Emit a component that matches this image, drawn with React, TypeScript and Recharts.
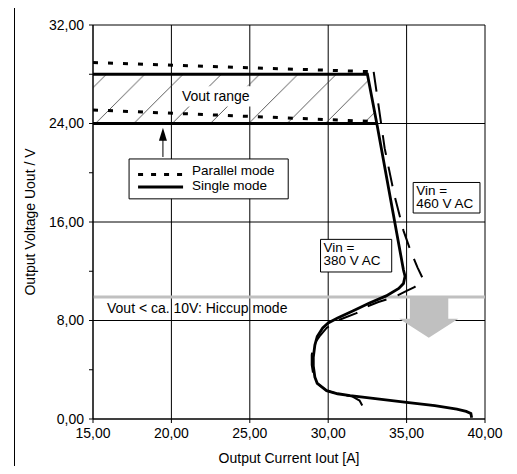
import React from "react";
import {
  ComposedChart,
  Line,
  Area,
  XAxis,
  YAxis,
  CartesianGrid,
  ReferenceLine,
  ReferenceArea,
} from "recharts";

// axes
const xTicks = [15, 20, 25, 30, 35, 40];
const yTicks = [0, 4, 8, 12, 16, 20, 24, 28, 32];
const yLabelled = [0, 8, 16, 24, 32];
const gridX = [15, 20, 25, 30, 35, 40];
const gridY = [0, 8, 16, 24, 32];

// Vout range (hatched band) as [low, high]
const voutRange = [
  { x: 15, r: [24, 28] },
  { x: 32.5, r: [24, 28] },
  { x: 33.1, r: [24, 24] },
];

// single mode (solid)
const singleMain = [
  { x: 15, y: 28 }, { x: 32.5, y: 28 }, { x: 33.1, y: 24 }, { x: 34.8, y: 12.1 },
  { x: 34.9, y: 11.6 }, { x: 34.8, y: 11.0 }, { x: 34.5, y: 10.6 }, { x: 33.7, y: 10.0 },
  { x: 32.6, y: 9.4 }, { x: 31.6, y: 8.8 }, { x: 30.6, y: 8.2 }, { x: 30.0, y: 7.8 },
  { x: 29.65, y: 7.4 }, { x: 29.3, y: 6.7 }, { x: 29.15, y: 6.0 }, { x: 29.05, y: 5.0 },
  { x: 29.05, y: 4.3 }, { x: 29.15, y: 3.4 }, { x: 29.3, y: 2.9 }, { x: 29.9, y: 2.3 },
  { x: 30.6, y: 2.05 }, { x: 31.4, y: 1.9 }, { x: 33.0, y: 1.65 }, { x: 35.0, y: 1.35 },
  { x: 36.8, y: 1.08 }, { x: 38.2, y: 0.8 }, { x: 38.8, y: 0.62 }, { x: 39.1, y: 0.45 },
  { x: 39.15, y: 0.1 },
];
const singleLow = [{ x: 15, y: 24 }, { x: 33.1, y: 24 }];

// parallel mode (dashed)
const parallelTop = [{ x: 15, y: 28.95 }, { x: 32.9, y: 28.2 }];
const parallelLow = [{ x: 15, y: 25.1 }, { x: 33.1, y: 24.15 }];
const parallelCurve = [
  { x: 32.9, y: 28.2 }, { x: 33.6, y: 22 }, { x: 34.2, y: 18.3 }, { x: 34.8, y: 15.3 },
  { x: 35.3, y: 13.5 }, { x: 35.7, y: 12.3 }, { x: 36.0, y: 11.5 }, { x: 35.9, y: 11.1 },
  { x: 35.5, y: 10.7 }, { x: 35.0, y: 10.4 }, { x: 34.2, y: 9.9 }, { x: 33.2, y: 9.5 },
  { x: 32.6, y: 9.2 }, { x: 31.8, y: 8.6 }, { x: 30.6, y: 8.0 }, { x: 29.9, y: 7.4 },
  { x: 29.5, y: 6.8 }, { x: 29.05, y: 6.0 }, { x: 28.95, y: 5.2 }, { x: 28.95, y: 4.4 },
  { x: 29.05, y: 3.6 }, { x: 29.3, y: 2.9 }, { x: 29.9, y: 2.3 }, { x: 30.7, y: 2.0 },
  { x: 31.5, y: 1.85 }, { x: 32.0, y: 1.5 }, { x: 32.25, y: 0.9 }, { x: 32.4, y: 0.2 },
];

const hiccupLevel = 9.9;

const fmt = (v: number) => v.toFixed(2).replace(".", ",");

const txt = { fontSize: 14, fill: "#000" };
const boxTxt = { fontSize: 13.5, fill: "#000" };

const LegendBox = (props: any) => {
  const { x, y } = props.viewBox;
  return (
    <g>
      <line x1={x + 9} x2={x + 54} y1={y + 15.5} y2={y + 15.5} stroke="#000" strokeWidth={3} strokeDasharray="5 8" />
      <line x1={x + 9} x2={x + 54} y1={y + 28} y2={y + 28} stroke="#000" strokeWidth={3} />
      <text x={x + 63} y={y + 16.5} {...boxTxt}>Parallel mode</text>
      <text x={x + 63} y={y + 31} {...boxTxt}>Single mode</text>
    </g>
  );
};

const TwoLines = (a: string, b: string) => (props: any) => {
  const { x, y } = props.viewBox;
  return (
    <g>
      <text x={x + 3} y={y + 12.5} {...boxTxt}>{a}</text>
      <text x={x + 3} y={y + 26} {...boxTxt}>{b}</text>
    </g>
  );
};

const GrayArrow = (p: any) => {
  const { x, y, width: w, height: h } = p;
  const pts = [
    [x + w * 0.18, y], [x + w * 0.83, y], [x + w * 0.83, y + h * 0.53],
    [x + w, y + h * 0.53], [x + w / 2, y + h], [x, y + h * 0.53], [x + w * 0.18, y + h * 0.53],
  ];
  return <polygon points={pts.map((q) => q.join(",")).join(" ")} fill="#c0c0c0" />;
};

const UpArrow = (p: any) => {
  const { x, y, width: w, height: h } = p;
  const cx = x + w / 2;
  return (
    <g>
      <line x1={cx} x2={cx} y1={y + h} y2={y + 10} stroke="#000" strokeWidth={1} />
      <polygon points={`${cx},${y} ${cx - 4},${y + 13} ${cx + 4},${y + 13}`} fill="#000" />
    </g>
  );
};

export default function App() {
  return (
    <div style={{ position: "relative", width: 517, height: 474, margin: "-8px", overflow: "hidden", fontFamily: "'Liberation Sans', Arial, sans-serif", background: "#fff" }}>
      <div style={{ position: "absolute", left: 14, top: 6, width: 495, height: 490, border: "1px solid #000" }} />
      <div style={{ position: "absolute", left: 0, top: 0 }}>
        <ComposedChart width={517} height={474} margin={{ top: 25, right: 32, bottom: 0, left: 0 }}>
          <defs>
            <pattern id="hatch" patternUnits="userSpaceOnUse" x={-10.8} y={0} width={38.3} height={38.3}>
              <path d="M0,38.3 L38.3,0 M-3,3 L3,-3 M35.3,41.3 L41.3,35.3" stroke="#333" strokeWidth={0.8} />
            </pattern>
          </defs>
          <CartesianGrid stroke="#000" strokeWidth={1} horizontalValues={gridY} verticalValues={gridX} />
          <XAxis
            type="number"
            dataKey="x"
            domain={[15, 40]}
            ticks={xTicks}
            allowDataOverflow
            height={55}
            tickSize={4}
            tickMargin={5}
            tickFormatter={fmt}
            tick={txt}
            stroke="#000"
            label={{ value: "Output Current Iout [A]", position: "insideBottom", offset: 11, style: txt }}
          />
          <YAxis
            type="number"
            domain={[0, 32]}
            ticks={yTicks}
            allowDataOverflow
            width={93}
            tickSize={4}
            tickMargin={5}
            tickFormatter={(v: number) => (yLabelled.includes(v) ? fmt(v) : "")}
            tick={txt}
            stroke="#000"
            label={{ value: "Output Voltage Uout / V", angle: -90, position: "insideLeft", offset: 30, style: { ...txt, textAnchor: "middle" } }}
          />
          <Area data={voutRange} dataKey="r" type="linear" stroke="none" fill="url(#hatch)" fillOpacity={1} isAnimationActive={false} />
          <ReferenceArea x1={20.28} x2={25.38} y1={25.39} y2={27.02} fill="#fff" fillOpacity={1} stroke="none"
            label={{ value: "Vout range", position: "center", style: txt }} />
          <ReferenceLine y={hiccupLevel} stroke="#c0c0c0" strokeWidth={3} />
          <ReferenceArea x1={15} x2={30} y1={8.3} y2={hiccupLevel - 0.1} fill="none" stroke="none"
            label={{ value: "Vout < ca. 10V: Hiccup mode", position: "insideLeft", offset: 14, style: txt }} />
          <ReferenceArea x1={34.53} x2={38.3} y1={6.59} y2={hiccupLevel} shape={GrayArrow} />
          <Line data={parallelTop} dataKey="y" type="linear" stroke="#000" strokeWidth={3} strokeDasharray="5 10" dot={false} isAnimationActive={false} />
          <Line data={parallelLow} dataKey="y" type="linear" stroke="#000" strokeWidth={3} strokeDasharray="5 10" dot={false} isAnimationActive={false} />
          <Line data={parallelCurve} dataKey="y" type="linear" stroke="#000" strokeWidth={2} strokeDasharray="20 12" dot={false} isAnimationActive={false} />
          <Line data={singleLow} dataKey="y" type="linear" stroke="#000" strokeWidth={3} dot={false} isAnimationActive={false} />
          <Line data={singleMain} dataKey="y" type="linear" stroke="#000" strokeWidth={2.8} dot={false} isAnimationActive={false} />
          <ReferenceArea x1={19.2} x2={19.72} y1={21.28} y2={23.65} shape={UpArrow} />
          <ReferenceArea x1={17.3} x2={27.45} y1={17.88} y2={21.12} fill="#fff" fillOpacity={1} stroke="#000" strokeWidth={1}
            label={{ content: LegendBox }} />
          <ReferenceArea x1={35.42} x2={39.68} y1={16.73} y2={19.21} fill="#fff" fillOpacity={1} stroke="#000" strokeWidth={1}
            label={{ content: TwoLines("Vin =", "460 V AC") }} />
          <ReferenceArea x1={29.51} x2={34.05} y1={11.94} y2={14.59} fill="#fff" fillOpacity={1} stroke="#000" strokeWidth={1}
            label={{ content: TwoLines("Vin =", "380 V AC") }} />
        </ComposedChart>
      </div>
    </div>
  );
}
